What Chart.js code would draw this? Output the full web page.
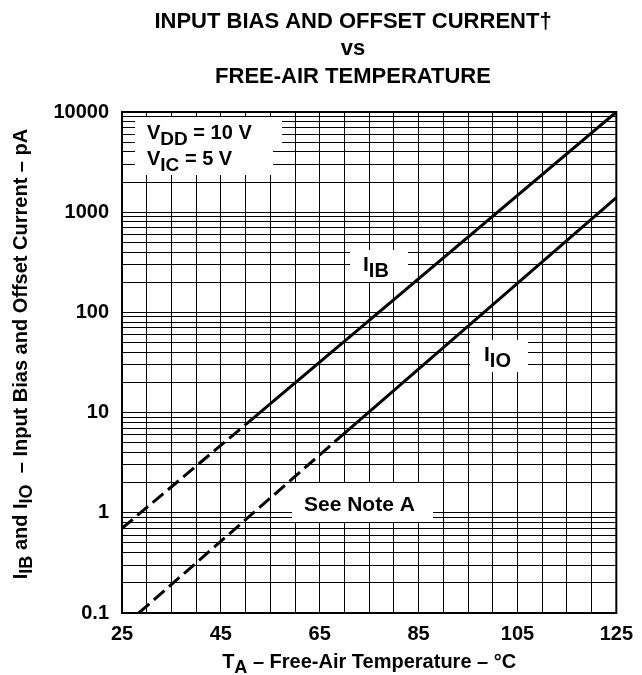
<!DOCTYPE html>
<html>
<head>
<meta charset="utf-8">
<script src="https://cdn.jsdelivr.net/npm/chart.js@4.4.1/dist/chart.umd.min.js"></script>
<style>
  html, body { margin: 0; padding: 0; background: #fff; }
  canvas { display: block; }
</style>
</head>
<body>
<canvas id="c" width="642" height="675"></canvas>
<script>
// ---- data ----
const tempIB = [25, 50, 125];          // °C
const valIB  = [0.7, 7.6, 10000];      // pA (first segment dashed)
const tempIO = [28.4, 68, 125];        // °C
const valIO  = [0.1, 5.1, 1400];       // pA (first segment dashed)
const xTickLabels = [25, 45, 65, 85, 105, 125];
const xGridStep = 5;
const yDecades = [0.1, 1, 10, 100, 1000, 10000];
const yTickLabels = ['0.1', '1', '10', '100', '1000', '10000'];

const FONT = '"Liberation Sans", Arial, Helvetica, sans-serif';

function pts(xs, ys) { return xs.map((x, i) => ({ x: x, y: ys[i] })); }
const dashFirst = ctx => ctx.p0DataIndex === 0 ? [14, 6] : [];

function drawRich(ctx, parts, size, subSize, subDy) {
  let x = 0;
  for (const [t, sub] of parts) {
    ctx.font = 'bold ' + (sub ? subSize : size) + 'px ' + FONT;
    ctx.fillText(t, x, sub ? subDy : 0);
    x += ctx.measureText(t).width;
  }
  return x;
}
function richWidth(ctx, parts, size, subSize) {
  let w = 0;
  for (const [t, sub] of parts) {
    ctx.font = 'bold ' + (sub ? subSize : size) + 'px ' + FONT;
    w += ctx.measureText(t).width;
  }
  return w;
}

const decor = {
  id: 'decor',
  beforeDatasetsDraw(chart) {
    const ctx = chart.ctx;
    ctx.save();
    ctx.fillStyle = '#fff';
    // annotation boxes hiding the grid
    ctx.fillRect(135, 117, 147, 31);
    ctx.fillRect(135, 148, 138, 27);
    ctx.fillRect(350, 250, 58, 32);
    ctx.fillRect(470, 340, 58, 32);
    ctx.fillRect(292, 483, 141, 39);
    ctx.fillStyle = '#000';
    ctx.textBaseline = 'alphabetic';
    ctx.save(); ctx.translate(147, 139);
    drawRich(ctx, [['V', 0], ['DD', 1], [' = 10 V', 0]], 20, 19, 6);
    ctx.restore();
    ctx.save(); ctx.translate(147, 165);
    drawRich(ctx, [['V', 0], ['IC', 1], [' = 5 V', 0]], 20, 19, 6);
    ctx.restore();
    ctx.save(); ctx.translate(363, 271);
    drawRich(ctx, [['I', 0], ['IB', 1]], 21, 20, 6);
    ctx.restore();
    ctx.save(); ctx.translate(484, 361);
    drawRich(ctx, [['I', 0], ['IO', 1]], 21, 20, 6);
    ctx.restore();
    ctx.font = 'bold 21px ' + FONT;
    ctx.textAlign = 'left';
    ctx.fillText('See Note A', 304, 511);
    ctx.restore();
  },
  afterDraw(chart) {
    const ctx = chart.ctx;
    const a = chart.chartArea;
    ctx.save();
    ctx.strokeStyle = '#000';
    ctx.lineWidth = 2;
    ctx.strokeRect(a.left, a.top, a.right - a.left, a.bottom - a.top);
    ctx.fillStyle = '#000';
    ctx.textBaseline = 'alphabetic';
    // title
    ctx.textAlign = 'center';
    ctx.font = 'bold 22px ' + FONT;
    ctx.fillText('INPUT BIAS AND OFFSET CURRENT\u2020', 353, 28);
    ctx.fillText('vs', 353, 55);
    ctx.fillText('FREE-AIR TEMPERATURE', 353, 83);
    ctx.textAlign = 'left';
    // x title
    const xt = [['T', 0], ['A', 1], [' \u2013 Free-Air Temperature \u2013 \u00B0C', 0]];
    const xw = richWidth(ctx, xt, 20, 18);
    ctx.save(); ctx.translate((a.left + a.right) / 2 - xw / 2, 668);
    drawRich(ctx, xt, 20, 18, 5);
    ctx.restore();
    // y title
    const yt = [['I', 0], ['IB', 1], [' and I', 0], ['IO', 1], ['  \u2013 Input Bias and Offset Current \u2013 pA', 0]];
    const yw = richWidth(ctx, yt, 20, 18);
    ctx.save(); ctx.translate(27, 354 + yw / 2);
    ctx.rotate(-Math.PI / 2);
    drawRich(ctx, yt, 20, 18, 5);
    ctx.restore();
    ctx.restore();
  }
};

new Chart(document.getElementById('c'), {
  type: 'line',
  data: {
    datasets: [
      { label: 'IIB', data: pts(tempIB, valIB), borderColor: '#000', borderWidth: 3,
        pointRadius: 0, fill: false, tension: 0, segment: { borderDash: dashFirst } },
      { label: 'IIO', data: pts(tempIO, valIO), borderColor: '#000', borderWidth: 3,
        pointRadius: 0, fill: false, tension: 0, segment: { borderDash: dashFirst } }
    ]
  },
  options: {
    responsive: false,
    animation: false,
    devicePixelRatio: 1,
    layout: { padding: { top: 112, right: 17, left: 0, bottom: 0 } },
    plugins: { legend: { display: false }, tooltip: { enabled: false }, title: { display: false } },
    scales: {
      x: {
        type: 'linear', min: xTickLabels[0], max: xTickLabels[xTickLabels.length - 1],
        afterFit: s => { s.height = 62; },
        grid: { color: '#000', lineWidth: 1, drawTicks: false },
        border: { display: false },
        ticks: {
          stepSize: xGridStep, autoSkip: false, maxRotation: 0, padding: 9, color: '#000',
          font: { family: FONT, size: 20, weight: 'bold' },
          callback: v => xTickLabels.includes(v) ? String(v) : ''
        }
      },
      y: {
        type: 'logarithmic', min: yDecades[0], max: yDecades[yDecades.length - 1],
        afterFit: s => { s.width = 122; },
        afterBuildTicks: s => {
          const t = [];
          for (let d = 0; d < yDecades.length; d++) {
            if (d === yDecades.length - 1) { t.push({ value: yDecades[d] }); break; }
            for (let m = 1; m <= 9; m++) t.push({ value: +(yDecades[d] * m).toPrecision(6) });
          }
          s.ticks = t;
        },
        grid: { color: '#000', lineWidth: 1, drawTicks: false },
        border: { display: false },
        ticks: {
          autoSkip: false, padding: 13, color: '#000',
          font: { family: FONT, size: 20, weight: 'bold' },
          callback: v => { const i = yDecades.indexOf(v); return i >= 0 ? yTickLabels[i] : ''; }
        }
      }
    }
  },
  plugins: [decor]
});
</script>
</body>
</html>
